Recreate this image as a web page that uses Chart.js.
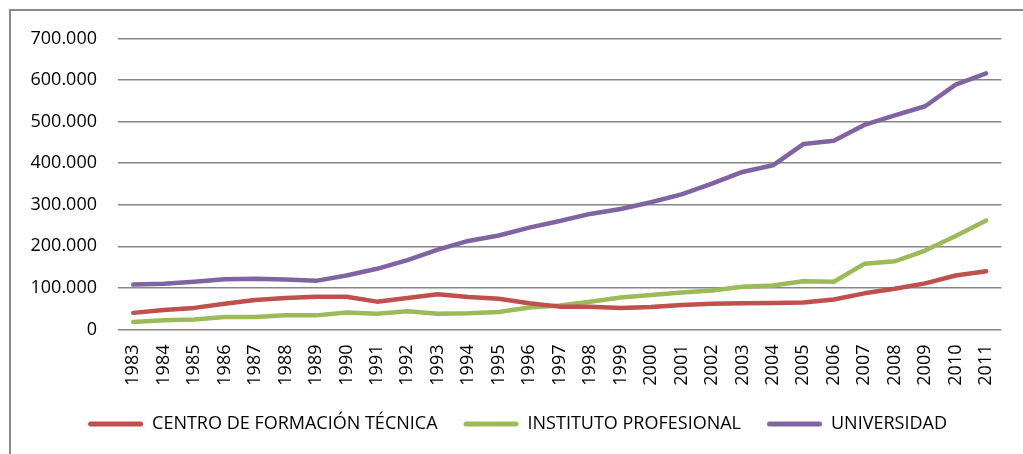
<!DOCTYPE html>
<html>
<head>
<meta charset="utf-8">
<script src="https://cdn.jsdelivr.net/npm/chart.js@4"></script>
<style>
  html, body { margin: 0; padding: 0; background: #fff; overflow: hidden; }
  #wrap { width: 1023px; height: 454px; }
</style>
</head>
<body>
<div id="wrap"><canvas id="chart"></canvas></div>
<script>
  // years on the x axis
  const years = ["1983", "1984", "1985", "1986", "1987", "1988", "1989", "1990", "1991", "1992",
    "1993", "1994", "1995", "1996", "1997", "1998", "1999", "2000", "2001", "2002",
    "2003", "2004", "2005", "2006", "2007", "2008", "2009", "2010", "2011"];

  // enrolment by type of institution
  const cft = [40000, 47000, 52000, 62000, 71000, 76000, 79000, 79000, 67000, 76000,
    85000, 78000, 74000, 63000, 55000, 55000, 52000, 54000, 59000, 62000,
    63000, 64000, 65000, 72000, 87000, 98000, 111000, 130000, 140000];
  const ip = [18000, 22000, 24000, 30000, 30000, 34000, 34000, 41000, 38000, 44000,
    38000, 39000, 42000, 53000, 58000, 67000, 77000, 83000, 89000, 94000,
    103000, 106000, 116000, 115000, 158000, 164000, 190000, 225000, 262000];
  const univ = [108000, 110000, 115000, 121000, 122000, 120000, 117000, 130000, 146000, 167000,
    192000, 213000, 226000, 245000, 261000, 278000, 290000, 306000, 325000, 351000,
    379000, 395000, 446000, 454000, 492000, 515000, 537000, 589000, 616000];

  const seriesNames = ["CENTRO DE FORMACIÓN TÉCNICA", "INSTITUTO PROFESIONAL", "UNIVERSIDAD"];
  const seriesColors = ["#C0504D", "#9BBB59", "#8064A2"];

  const fmt = (v) => String(v).replace(/\B(?=(\d{3})+(?!\d))/g, ".");

  // the outer frame of the chart, only its top and left sides are in view
  const frame = {
    id: "frame",
    beforeDraw(chart) {
      const c = chart.ctx;
      c.save();
      c.strokeStyle = "#8a8a8a";
      c.lineWidth = 2;
      c.beginPath();
      c.moveTo(10, 454);
      c.lineTo(10, 10);
      c.lineTo(1023, 10);
      c.stroke();
      c.restore();
    },
  };

  const ctx = document.getElementById("chart").getContext("2d");
  new Chart(ctx, {
    type: "line",
    data: {
      labels: years,
      datasets: [cft, ip, univ].map((d, i) => ({
        label: seriesNames[i],
        data: d,
        borderColor: seriesColors[i],
        backgroundColor: seriesColors[i],
        borderWidth: 4.5,
        pointRadius: 0,
        tension: 0,
        borderCapStyle: "round",
        borderJoinStyle: "round",
      })),
    },
    options: {
      responsive: true,
      maintainAspectRatio: false,
      animation: false,
      layout: { padding: { left: 28, right: 16, top: 38.5, bottom: 11 } },
      plugins: {
        tooltip: { enabled: false },
        legend: {
          position: "bottom",
          labels: {
            font: { family: "Open Sans", size: 18 },
            color: "#000",
            boxWidth: 55,
            boxHeight: 5,
            useBorderRadius: true,
            borderRadius: 2.5,
            padding: 26,
            generateLabels(chart) {
              const items = Chart.defaults.plugins.legend.labels.generateLabels(chart);
              items.forEach((it) => { it.lineWidth = 0; });
              return items;
            },
          },
        },
      },
      scales: {
        x: {
          offset: true,
          grid: { display: false, drawTicks: false },
          border: { display: false },
          ticks: {
            font: { family: "Open Sans", size: 18 },
            color: "#000",
            minRotation: 90,
            maxRotation: 90,
            autoSkip: false,
            padding: 15,
          },
          afterFit(scale) { scale.height = 59.5; },
        },
        y: {
          min: 0,
          max: 700000,
          grid: { color: "#868686", lineWidth: 1.6, drawTicks: false },
          border: { display: false },
          ticks: {
            stepSize: 100000,
            font: { family: "Open Sans", size: 18 },
            color: "#000",
            padding: 21,
            callback: (v) => fmt(v),
          },
          afterFit(scale) { scale.width = 90; },
        },
      },
    },
    plugins: [frame],
  });
</script>
</body>
</html>
